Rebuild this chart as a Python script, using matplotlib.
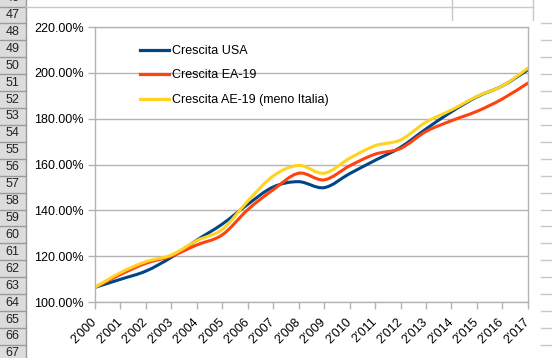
import numpy as np
import matplotlib
matplotlib.use('Agg')
import matplotlib.pyplot as plt
from matplotlib.path import Path
from matplotlib.patches import PathPatch, Rectangle
from matplotlib.lines import Line2D

plt.rcParams['font.family'] = ['Liberation Sans', 'DejaVu Sans']

years = list(range(2000, 2018))
usa = [106.4, 109.9, 113.5, 119.5, 127.0, 134.0, 142.6, 150.2, 152.5, 149.9,
       156.0, 161.8, 167.5, 175.5, 183.0, 189.5, 194.3, 201.3]
ea19 = [106.4, 112.0, 116.9, 120.0, 124.9, 129.3, 140.3, 149.0, 156.2, 153.3,
        159.4, 164.5, 167.0, 174.4, 179.1, 183.2, 188.6, 195.5]
ae19 = [106.4, 112.8, 117.6, 120.5, 126.8, 131.7, 144.0, 155.0, 159.6, 156.2,
        162.7, 168.2, 170.7, 178.5, 183.8, 189.7, 194.3, 202.0]
series_names = ['Crescita USA', 'Crescita EA-19', 'Crescita AE-19 (meno Italia)']
series_colors = ['#004586', '#ff420e', '#ffd320']
row_numbers = list(range(46, 68))

W, H = 552, 358


def smooth_path(x, y):
    # catmull-rom through the data points, drawn as bezier segments
    pts = np.column_stack([np.asarray(x, float), np.asarray(y, float)])
    n = len(pts)
    verts = [pts[0]]
    codes = [Path.MOVETO]
    for i in range(n - 1):
        p0 = pts[max(i - 1, 0)]
        p1, p2 = pts[i], pts[i + 1]
        p3 = pts[min(i + 2, n - 1)]
        verts += [p1 + (p2 - p0) / 6, p2 - (p3 - p1) / 6, p2]
        codes += [Path.CURVE4] * 3
    return Path(verts, codes)


fig = plt.figure(figsize=(W / 100, H / 100), dpi=100)

# spreadsheet behind the chart (pixel coords)
bg = fig.add_axes([0, 0, 1, 1], zorder=-5)
bg.set_xlim(0, W)
bg.set_ylim(H, 0)
bg.axis('off')
bg.add_patch(Rectangle((0, 0), 25.5, H, facecolor='#dcdcdc', edgecolor='none'))
bg.plot([25.5, 25.5], [0, H], color='#9a9a9a', lw=1)
row_h = 16.92
for k, r in enumerate(row_numbers):
    top = 6.5 + (k - 1) * row_h
    bg.plot([0, 25.5], [top + row_h, top + row_h], color='#9a9a9a', lw=1)
    bg.text(12.5, top + row_h / 2, str(r), ha='center', va='center',
            fontsize=9, color='#222222')
    if k >= 1:
        bg.plot([541, W], [top + row_h, top + row_h], color='#c8c8c8', lw=1)
bg.plot([25.5, 533], [6.5, 6.5], color='#c8c8c8', lw=1)
bg.plot([452, 452], [0, 20], color='#c8c8c8', lw=1)
bg.plot([533, 533], [0, 20], color='#c8c8c8', lw=1)

ax = fig.add_axes([95 / W, 1 - 302 / H, (527.8 - 95) / W, (302 - 27) / H])
for vals, c in zip([usa, ea19, ae19], series_colors):
    ax.add_patch(PathPatch(smooth_path(years, vals), fill=False, edgecolor=c,
                           lw=2.2, capstyle='round', joinstyle='round'))

ax.set_xlim(years[0], years[-1])
ax.set_ylim(100, 220)
ax.set_yticks(np.arange(100, 221, 20))
ax.set_yticklabels([f'{v:.2f}%' for v in np.arange(100, 221, 20)], fontsize=9)
ax.set_xticks(years)
ax.set_xticklabels([f"{y // 1000}\u2019{y % 1000:03d}" for y in years], fontsize=9,
                   rotation=45, ha='right', rotation_mode='anchor', va='center')
ax.tick_params(axis='both', length=5, width=1, color='#b3b3b3', pad=3)
ax.tick_params(axis='x', pad=8)
ax.grid(axis='y', color='#b3b3b3', lw=1)
ax.set_axisbelow(True)
for s in ax.spines.values():
    s.set_color('#b3b3b3')
    s.set_linewidth(1)

handles = [Line2D([], [], color=c, lw=2.3) for c in series_colors]
ax.legend(handles, series_names, loc='upper left', frameon=False, fontsize=9,
          bbox_to_anchor=(140 / W, 1 - 45 / H), bbox_transform=fig.transFigure,
          borderpad=0, borderaxespad=0, handlelength=2.3, handletextpad=0.3,
          labelspacing=1.0)

fig.savefig('out.png', dpi=100, facecolor='white')
